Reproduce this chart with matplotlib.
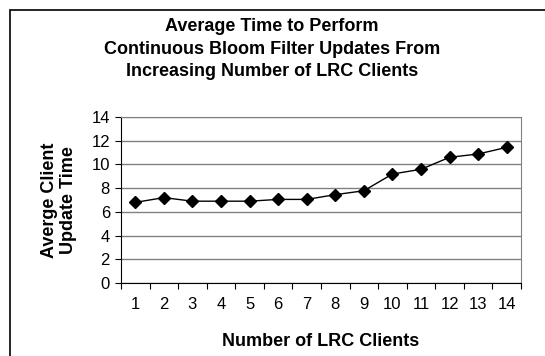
import matplotlib.pyplot as plt
from matplotlib.patches import Rectangle

plt.rcParams['font.family'] = ['Liberation Sans', 'DejaVu Sans']

# dados
clientes = ['1', '2', '3', '4', '5', '6', '7', '8', '9', '10', '11', '12', '13', '14']
tempos = [6.8, 7.2, 6.9, 6.9, 6.9, 7.05, 7.05, 7.45, 7.78, 9.19, 9.59, 10.6, 10.88, 11.44]
yticks = [0, 2, 4, 6, 8, 10, 12, 14]

W, H = 545, 356
fig = plt.figure(figsize=(W / 100, H / 100), dpi=100)
ax = fig.add_axes([121 / W, 1 - 283 / H, 400 / W, 166 / H])

x = list(range(len(clientes)))
ax.plot(x, tempos, color='black', linewidth=1, marker='D', markersize=6.5,
        markerfacecolor='black', markeredgecolor='black', zorder=3, clip_on=False)

ax.set_xlim(-0.5, len(clientes) - 0.5)
ax.set_ylim(0, 14)
ax.set_yticks(yticks)
ax.set_xticks(x)
ax.set_xticklabels(clientes)
ax.set_xticks([i - 0.5 for i in range(len(clientes) + 1)], minor=True)
ax.tick_params(axis='x', which='major', length=0, pad=10, labelsize=12)
ax.tick_params(axis='x', which='minor', length=4, direction='out', width=0.8)
ax.tick_params(axis='y', length=4, direction='out', width=0.8, labelsize=12, pad=4)

ax.grid(True, axis='y', color='#808080', linewidth=1)
ax.set_axisbelow(True)
ax.spines['left'].set_color('black')
ax.spines['bottom'].set_color('black')
ax.spines['top'].set_color('#808080')
ax.spines['right'].set_color('#808080')

ax.set_xlabel('Number of LRC Clients', fontsize=13, fontweight='bold', labelpad=15)
ax.set_ylabel('Averge Client\nUpdate Time', fontsize=13, fontweight='bold', labelpad=10,
              linespacing=1.15)

fig.text(272 / W, 1 - 49 / H,
         'Average Time to Perform\nContinuous Bloom Filter Updates From\nIncreasing Number of LRC Clients',
         ha='center', va='center', fontsize=13, fontweight='bold', linespacing=1.42)

# moldura da área do gráfico
fig.patches.append(Rectangle((10 / W, -0.2), 1.2, 1 - 10 / H + 0.2, transform=fig.transFigure,
                             fill=False, edgecolor='black', linewidth=1.2))

fig.savefig('out.png', dpi=100)
